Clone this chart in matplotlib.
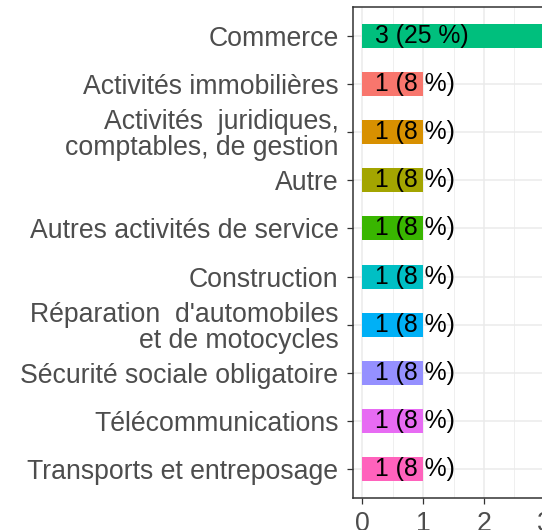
import matplotlib
matplotlib.use("Agg")
import matplotlib.pyplot as plt
import numpy as np

plt.rcParams['font.family'] = ['Liberation Sans', 'DejaVu Sans']

# data, top to bottom as displayed
categories = ["Commerce",
              "Activités immobilières",
              "Activités  juridiques,\ncomptables, de gestion",
              "Autre",
              "Autres activités de service",
              "Construction",
              "Réparation  d'automobiles\net de motocycles",
              "Sécurité sociale obligatoire",
              "Télécommunications",
              "Transports et entreposage"]
counts = [3, 1, 1, 1, 1, 1, 1, 1, 1, 1]
labels = ["3 (25 %)", "1 (8 %)", "1 (8 %)", "1 (8 %)", "1 (8 %)",
          "1 (8 %)", "1 (8 %)", "1 (8 %)", "1 (8 %)", "1 (8 %)"]
colors = ["#00BF7D", "#F8766D", "#D89000", "#A3A500", "#39B600",
          "#00BFC4", "#00B0F6", "#9590FF", "#E76BF3", "#FF62BC"]
xticks = [0, 1, 2, 3]

W, H = 542, 530
fig = plt.figure(figsize=(W / 100, H / 100), dpi=100)
left, right, bottom, top = 353, 554, 498, 7
ax = fig.add_axes([left / W, (H - bottom) / H, (right - left) / W, (bottom - top) / H])

ypos = np.arange(len(categories))[::-1]
ax.barh(ypos, counts, height=0.5, color=colors, zorder=2)
for y, lab in zip(ypos, labels):
    ax.text(0.21, y, lab, ha='left', va='center', fontsize=17.8, color='black', zorder=3)

ax.set_xlim(-0.15, 3.15)
ax.set_ylim(-0.6, len(categories) - 0.4)
ax.set_xticks(xticks)
ax.set_xticks([0.5, 1.5, 2.5], minor=True)
ax.set_yticks(ypos)
ax.set_yticklabels(categories)
for lbl in ax.get_yticklabels():
    lbl.set_multialignment('right')
    lbl.set_linespacing(1.0)

ax.grid(which='major', color='#EBEBEB', linewidth=1.1, zorder=0)
ax.grid(which='minor', axis='x', color='#EBEBEB', linewidth=0.55, zorder=0)
ax.set_axisbelow(True)

ax.tick_params(axis='both', which='major', length=4.5, width=0.9, color='#333333',
               labelcolor='#4D4D4D', labelsize=19.2, pad=6)
ax.tick_params(axis='x', which='minor', length=0)
ax.tick_params(axis='x', pad=5)
for s in ax.spines.values():
    s.set_color('#333333')
    s.set_linewidth(1.1)

fig.savefig("out.png", dpi=100)
